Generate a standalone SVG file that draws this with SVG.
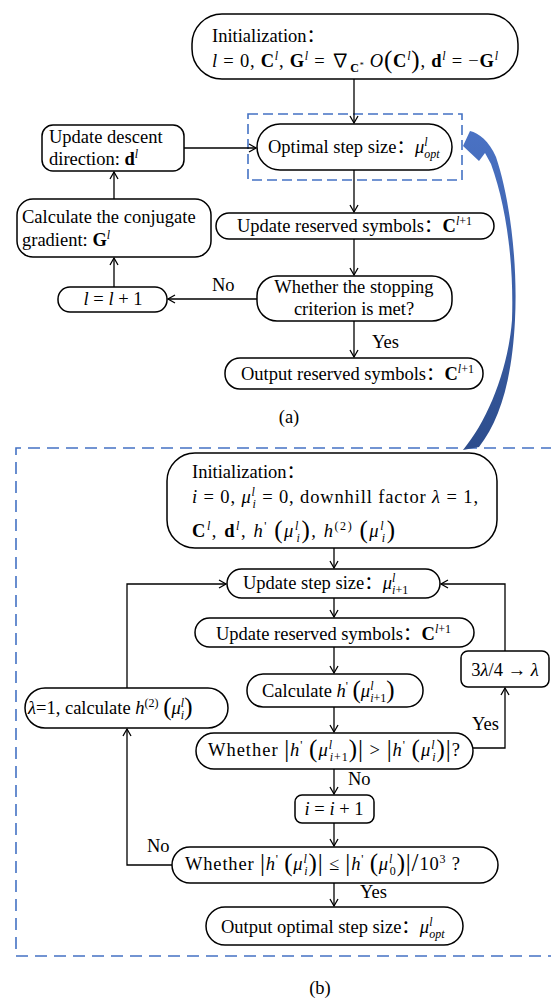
<svg xmlns="http://www.w3.org/2000/svg" width="551" height="998" viewBox="0 0 551 998">
<style>
.bg{fill:#fff}
.n{fill:#fff;stroke:#000;stroke-width:1.5}
.c{fill:none;stroke:#000;stroke-width:1.3}
.dash{fill:none;stroke:#4472c4;stroke-width:1.6}
.t{font-family:"Liberation Serif","Times New Roman","Noto Sans CJK SC",serif;font-size:18.5px;fill:#000}
.i{font-style:italic}
.b{font-weight:bold}
.sup{font-size:12px;baseline-shift:7px}
.sub{font-size:12px;baseline-shift:-5px}
.lg{font-size:25px;baseline-shift:-1px}
.m{text-anchor:middle}
</style>
<defs>
<marker id="ah" markerUnits="userSpaceOnUse" markerWidth="12" markerHeight="12" refX="0" refY="0" viewBox="-10 -6 12 12" orient="auto">
<path d="M-7,-4 L0,0 L-7,4" fill="none" stroke="#000" stroke-width="1.3"/>
</marker>
<linearGradient id="bl" x1="0" y1="0" x2="0" y2="1">
<stop offset="0" stop-color="#4a72c4"/>
<stop offset="1" stop-color="#2d4d8c"/>
</linearGradient>
</defs>
<rect class="bg" x="0" y="0" width="551" height="998"/>

<!-- dashed frames -->
<rect class="dash" x="248" y="114" width="214" height="66" stroke-dasharray="10 5"/>
<path class="dash" d="M553,448 H16 V956 H553" stroke-dasharray="12 7"/>

<!-- blue curved arrow -->
<path id="bigArrow" fill="url(#bl)" d="M463,146 L470,131 C479,133 489,141 496,157 C509,195 518,260 515,320 C512,380 500,420 479,447 L463,450 C488,420 508,370 512,320 C514,262 506,205 491,164 L485,153 L479,161 Z"/>

<g id="connectors">
<path class="c" d="M354,79 V123" marker-end="url(#ah)"/>
<path class="c" d="M354,170 V212" marker-end="url(#ah)"/>
<path class="c" d="M354,239 V275" marker-end="url(#ah)"/>
<path class="c" d="M354,321 V357" marker-end="url(#ah)"/>
<path class="c" d="M257,299 H168" marker-end="url(#ah)"/>
<path class="c" d="M114,287 V258" marker-end="url(#ah)"/>
<path class="c" d="M114,199 V172" marker-end="url(#ah)"/>
<path class="c" d="M184,148 H256" marker-end="url(#ah)"/>

<path class="c" d="M334,548 V568" marker-end="url(#ah)"/>
<path class="c" d="M334,598 V617" marker-end="url(#ah)"/>
<path class="c" d="M334,647 V673" marker-end="url(#ah)"/>
<path class="c" d="M334,707 V732" marker-end="url(#ah)"/>
<path class="c" d="M334,769 V794" marker-end="url(#ah)"/>
<path class="c" d="M334,823 V846" marker-end="url(#ah)"/>
<path class="c" d="M334,883 V906" marker-end="url(#ah)"/>
<path class="c" d="M473,748 H505 V688" marker-end="url(#ah)"/>
<path class="c" d="M505,651 V584 H441" marker-end="url(#ah)"/>
<path class="c" d="M172,865 H127 V729" marker-end="url(#ah)"/>
<path class="c" d="M127,688 V584 H226" marker-end="url(#ah)"/>
</g>

<g id="labels">
<text class="t" x="212" y="291">No</text>
<text class="t" x="372" y="348">Yes</text>
<text class="t m" x="289" y="423">(a)</text>
<text class="t" x="472" y="730">Yes</text>
<text class="t" x="348" y="785">No</text>
<text class="t" x="147" y="852">No</text>
<text class="t" x="360" y="898">Yes</text>
<text class="t m" x="320" y="994">(b)</text>
</g>

<g id="initA">
<rect class="n" x="192" y="14" width="326" height="65" rx="30"/>
<text class="t" x="212" y="42">Initialization：</text>
<text class="t" x="212" y="67" textLength="286" lengthAdjust="spacing"><tspan class="i">l</tspan> = 0, <tspan class="b">C</tspan><tspan class="sup i">l</tspan>, <tspan class="b">G</tspan><tspan class="sup i">l</tspan> = ∇<tspan class="sub b">C</tspan><tspan font-size="8" baseline-shift="-1">*</tspan> <tspan class="i">O</tspan><tspan class="lg">(</tspan><tspan class="b">C</tspan><tspan class="sup i">l</tspan><tspan class="lg">)</tspan>, <tspan class="b">d</tspan><tspan class="sup i">l</tspan> = −<tspan class="b">G</tspan><tspan class="sup i">l</tspan></text>
</g>

<g id="optA">
<rect class="n" x="257" y="124" width="195" height="46" rx="23"/>
<text class="t" x="268" y="153">Optimal step size：<tspan class="i">μ</tspan><tspan class="sup i">l</tspan><tspan class="sub i" dx="-3.3">opt</tspan></text>
</g>

<g id="updA">
<rect class="n" x="216" y="213" width="278" height="26" rx="13"/>
<text class="t" x="237" y="232">Update reserved symbols：<tspan class="b">C</tspan><tspan class="sup"><tspan class="i">l</tspan>+1</tspan></text>
</g>

<g id="stopA">
<rect class="n" x="257" y="276" width="195" height="45" rx="20"/>
<text class="t m" x="354" y="293">Whether the stopping</text>
<text class="t m" x="354" y="315">criterion is met?</text>
</g>

<g id="outA">
<rect class="n" x="225" y="358" width="258" height="31" rx="15"/>
<text class="t" x="241" y="380">Output reserved symbols：<tspan class="b">C</tspan><tspan class="sup"><tspan class="i">l</tspan>+1</tspan></text>
</g>

<g id="descentA">
<rect class="n" x="42" y="125" width="142" height="46" rx="11"/>
<text class="t" x="49" y="143">Update descent</text>
<text class="t" x="49" y="165">direction: <tspan class="b">d</tspan><tspan class="sup i">l</tspan></text>
</g>

<g id="conjA">
<rect class="n" x="17" y="199" width="194" height="58" rx="16"/>
<text class="t" x="22" y="223">Calculate the conjugate</text>
<text class="t" x="22" y="246">gradient: <tspan class="b">G</tspan><tspan class="sup i">l</tspan></text>
</g>

<g id="incA">
<rect class="n" x="58" y="287" width="109" height="25" rx="12"/>
<text class="t m" x="113" y="305"><tspan class="i">l</tspan> = <tspan class="i">l</tspan> + 1</text>
</g>

<g id="initB">
<rect class="n" x="167" y="453" width="330" height="95" rx="28"/>
<text class="t" x="192" y="478">Initialization：</text>
<text class="t" x="192" y="503" textLength="286" lengthAdjust="spacing"><tspan class="i">i</tspan> = 0, <tspan class="i">μ</tspan><tspan class="sup i">l</tspan><tspan class="sub i" dx="-3.3">i</tspan> = 0, downhill factor <tspan class="i">λ</tspan> = 1,</text>
<text class="t" x="192" y="537" textLength="203" lengthAdjust="spacing"><tspan class="b">C</tspan><tspan class="sup i">l</tspan>, <tspan class="b">d</tspan><tspan class="sup i">l</tspan>, <tspan class="i">h</tspan><tspan class="sup">'</tspan> <tspan class="lg">(</tspan><tspan class="i">μ</tspan><tspan class="sup i">l</tspan><tspan class="sub i" dx="-3.3">i</tspan><tspan class="lg">)</tspan>, <tspan class="i">h</tspan><tspan class="sup">(2)</tspan> <tspan class="lg">(</tspan><tspan class="i">μ</tspan><tspan class="sup i">l</tspan><tspan class="sub i" dx="-3.3">i</tspan><tspan class="lg">)</tspan></text>
</g>

<g id="stepB">
<rect class="n" x="227" y="569" width="213" height="29" rx="14.5"/>
<text class="t" x="243" y="589">Update step size：<tspan class="i">μ</tspan><tspan class="sup i">l</tspan><tspan class="sub" dx="-3.3"><tspan class="i">i</tspan>+1</tspan></text>
</g>

<g id="updB">
<rect class="n" x="195" y="618" width="279" height="29" rx="14.5"/>
<text class="t" x="216" y="640">Update reserved symbols：<tspan class="b">C</tspan><tspan class="sup"><tspan class="i">l</tspan>+1</tspan></text>
</g>

<g id="calcB">
<rect class="n" x="247" y="674" width="176" height="33" rx="16"/>
<text class="t" x="262" y="697">Calculate <tspan class="i">h</tspan><tspan class="sup">'</tspan> <tspan class="lg">(</tspan><tspan class="i">μ</tspan><tspan class="sup i">l</tspan><tspan class="sub" dx="-3.3"><tspan class="i">i</tspan>+1</tspan><tspan class="lg">)</tspan></text>
</g>

<g id="cmp1B">
<rect class="n" x="196" y="733" width="277" height="36" rx="18"/>
<text class="t" x="208" y="756" textLength="252" lengthAdjust="spacing">Whether <tspan class="lg">|</tspan><tspan class="i">h</tspan><tspan class="sup">'</tspan> <tspan class="lg">(</tspan><tspan class="i">μ</tspan><tspan class="sup i">l</tspan><tspan class="sub" dx="-3.3"><tspan class="i">i</tspan>+1</tspan><tspan class="lg">)</tspan><tspan class="lg">|</tspan> &gt; <tspan class="lg">|</tspan><tspan class="i">h</tspan><tspan class="sup">'</tspan> <tspan class="lg">(</tspan><tspan class="i">μ</tspan><tspan class="sup i">l</tspan><tspan class="sub i" dx="-3.3">i</tspan><tspan class="lg">)</tspan><tspan class="lg">|</tspan>?</text>
</g>

<g id="lamB">
<rect class="n" x="461" y="651" width="88" height="36" rx="7"/>
<text class="t m" x="505" y="676">3<tspan class="i">λ</tspan>/4 → <tspan class="i">λ</tspan></text>
</g>

<g id="incB">
<rect class="n" x="295" y="795" width="79" height="28" rx="7"/>
<text class="t m" x="334" y="815"><tspan class="i">i</tspan> = <tspan class="i">i</tspan> + 1</text>
</g>

<g id="cmp2B">
<rect class="n" x="172" y="847" width="326" height="36" rx="18"/>
<text class="t" x="185" y="870" textLength="275" lengthAdjust="spacing">Whether <tspan class="lg">|</tspan><tspan class="i">h</tspan><tspan class="sup">'</tspan> <tspan class="lg">(</tspan><tspan class="i">μ</tspan><tspan class="sup i">l</tspan><tspan class="sub i" dx="-3.3">i</tspan><tspan class="lg">)</tspan><tspan class="lg">|</tspan> ≤ <tspan class="lg">|</tspan><tspan class="i">h</tspan><tspan class="sup">'</tspan> <tspan class="lg">(</tspan><tspan class="i">μ</tspan><tspan class="sup i">l</tspan><tspan class="sub" dx="-3.3">0</tspan><tspan class="lg">)</tspan><tspan class="lg">|</tspan><tspan class="lg">/</tspan>10<tspan class="sup">3</tspan> ?</text>
</g>

<g id="resetB">
<rect class="n" x="25" y="688" width="203" height="40" rx="20"/>
<text class="t" x="28" y="714"><tspan class="i">λ</tspan>=1, calculate <tspan class="i">h</tspan><tspan class="sup">(2)</tspan> <tspan class="lg">(</tspan><tspan class="i">μ</tspan><tspan class="sup i">l</tspan><tspan class="sub i" dx="-3.3">i</tspan><tspan class="lg">)</tspan></text>
</g>

<g id="outB">
<rect class="n" x="206" y="907" width="257" height="38" rx="19"/>
<text class="t" x="221" y="933">Output optimal step size：<tspan class="i">μ</tspan><tspan class="sup i">l</tspan><tspan class="sub i" dx="-3.3">opt</tspan></text>
</g>
</svg>
